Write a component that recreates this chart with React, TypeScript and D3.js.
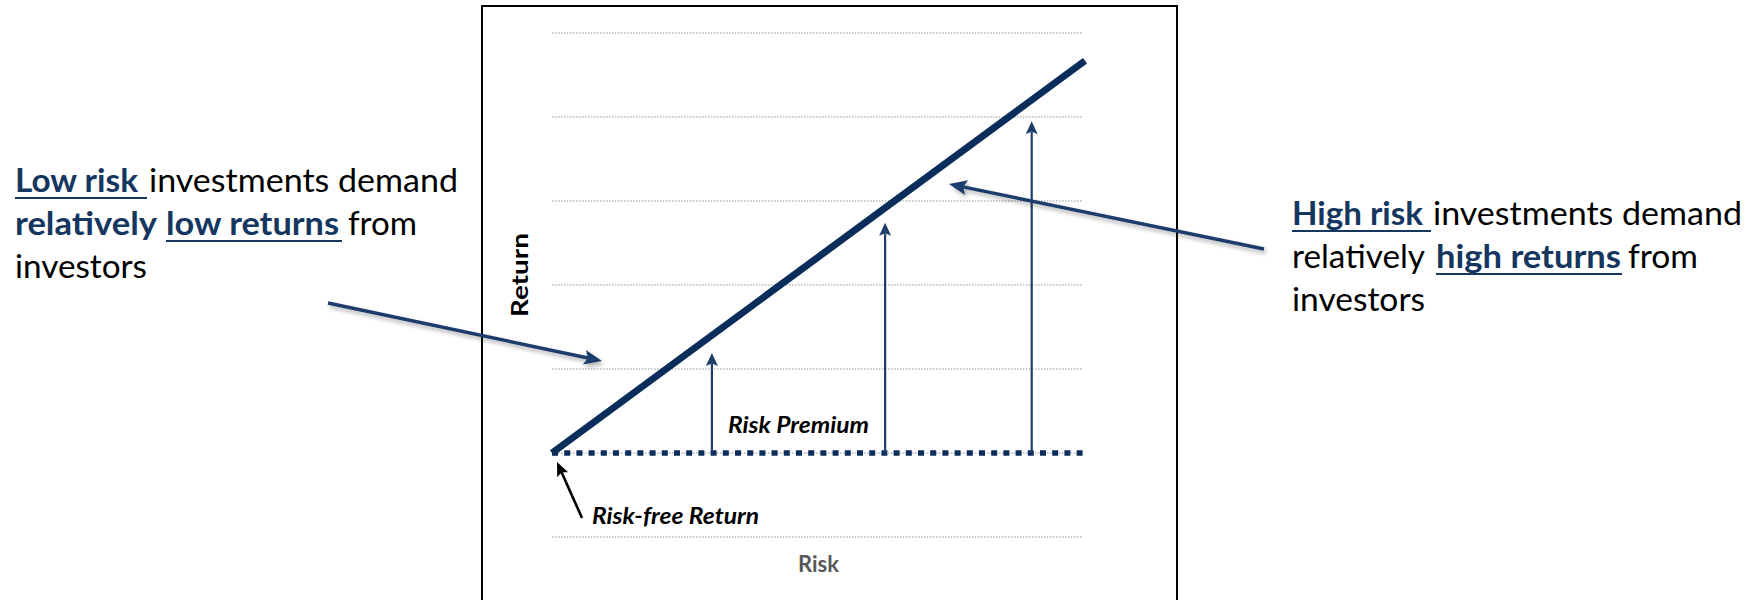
import React from "react";
import * as d3 from "d3";

// ---- data ----
const gridTicks = [0, 1, 2, 3, 4, 5, 6];
const smlRisk = [0, 10];
const smlReturn = [1, 5.67];
const riskFreeReturn = 1;
const premiumRisk = [3, 6.25, 9];
const premiumTop = [2.19, 3.74, 4.95];

const W = 1750;
const H = 600;
const NAVY = "#0b2d5b";
const ARROW = "#1f3d6c";
const TEXTNAVY = "#15375f";
const FONT = "Lato, 'Open Sans', sans-serif";

const x = d3.scaleLinear().domain([0, 10]).range([552, 1085]);
const y = d3.scaleLinear().domain([0, 6]).range([537, 33]);

function Arrow({ x1, y1, x2, y2, color, width, headLen, headW, filter }: any) {
  const ang = Math.atan2(y2 - y1, x2 - x1);
  const bx = x2 - headLen * Math.cos(ang);
  const by = y2 - headLen * Math.sin(ang);
  const px = Math.cos(ang + Math.PI / 2) * headW / 2;
  const py = Math.sin(ang + Math.PI / 2) * headW / 2;
  const lx = x2 - (headLen * 0.8) * Math.cos(ang);
  const ly = y2 - (headLen * 0.8) * Math.sin(ang);
  return (
    <g filter={filter}>
      <line x1={x1} y1={y1} x2={lx} y2={ly} stroke={color} strokeWidth={width} />
      <polygon points={`${x2},${y2} ${bx + px},${by + py} ${lx},${ly} ${bx - px},${by - py}`} fill={color} />
    </g>
  );
}

type Seg = { t: string; x: number; w: number; bold?: boolean; ul?: number };

const leftLines: { base: number; segs: Seg[] }[] = [
  { base: 192, segs: [
    { t: "Low risk", x: 15, w: 123, bold: true, ul: 132 },
    { t: "investments demand", x: 149, w: 309 },
  ]},
  { base: 235, segs: [
    { t: "relatively", x: 15, w: 142, bold: true },
    { t: "low returns", x: 166, w: 173, bold: true, ul: 176 },
    { t: "from", x: 348, w: 69 },
  ]},
  { base: 278, segs: [
    { t: "investors", x: 15, w: 132 },
  ]},
];

const rightLines: { base: number; segs: Seg[] }[] = [
  { base: 225, segs: [
    { t: "High risk", x: 1292, w: 131, bold: true, ul: 139 },
    { t: "investments demand", x: 1433, w: 309 },
  ]},
  { base: 268, segs: [
    { t: "relatively", x: 1292, w: 133 },
    { t: "high returns", x: 1436, w: 185, bold: true, ul: 186 },
    { t: "from", x: 1628, w: 70 },
  ]},
  { base: 311, segs: [
    { t: "investors", x: 1292, w: 133 },
  ]},
];

function TextBlock({ lines }: { lines: { base: number; segs: Seg[] }[] }) {
  return (
    <g fontFamily={FONT} fontSize={32}>
      {lines.map((ln, i) => (
        <g key={i}>
          {ln.segs.map((s, j) => (
            <g key={j}>
              <text x={s.x} y={ln.base} textLength={s.w} lengthAdjust="spacingAndGlyphs"
                fontWeight={s.bold ? 700 : 400} fill={s.bold ? TEXTNAVY : "#000"}>{s.t}</text>
              {s.ul ? <line x1={s.x} x2={s.x + s.ul} y1={ln.base + 6} y2={ln.base + 6} stroke={TEXTNAVY} strokeWidth={2} /> : null}
            </g>
          ))}
        </g>
      ))}
    </g>
  );
}

export default function App() {
  const line = d3.line<number>().x((d, i) => x(smlRisk[i])).y((d) => y(d));
  return (
    <svg width={W} height={H} style={{ position: "absolute", left: 0, top: 0, background: "#fff" }}>
      <defs>
        <filter id="shadow" x="-20%" y="-50%" width="140%" height="200%">
          <feDropShadow dx="2" dy="3" stdDeviation="2" floodColor="#000" floodOpacity="0.3" />
        </filter>
      </defs>
      <rect x={0} y={0} width={W} height={H} fill="#fff" />
      {/* chart frame */}
      <rect x={482} y={6} width={695} height={620} fill="none" stroke="#000" strokeWidth={2} />
      {/* gridlines */}
      {gridTicks.map((t) => (
        <line key={t} x1={552} x2={1083} y1={y(t)} y2={y(t)} stroke="#b8b8b8" strokeWidth={1.5} strokeDasharray="1.5 1.5" />
      ))}
      {/* risk-free dotted line */}
      <line x1={x(0)} x2={x(10) + 3} y1={y(riskFreeReturn)} y2={y(riskFreeReturn)}
        stroke={NAVY} strokeWidth={5.5} strokeDasharray="6 6.2" />
      {/* premium arrows */}
      {premiumRisk.map((r, i) => (
        <Arrow key={i} x1={x(r)} y1={y(riskFreeReturn)} x2={x(r)} y2={y(premiumTop[i])}
          color={ARROW} width={2.2} headLen={13} headW={12} />
      ))}
      {/* SML */}
      <path d={line(smlReturn) || ""} fill="none" stroke={NAVY} strokeWidth={7} />
      {/* labels */}
      <text x={728} y={433} textLength={141} lengthAdjust="spacingAndGlyphs" fontFamily={FONT}
        fontSize={23} fontWeight={700} fontStyle="italic" fill="#000">Risk Premium</text>
      <text x={592} y={524} textLength={167} lengthAdjust="spacingAndGlyphs" fontFamily={FONT}
        fontSize={23} fontWeight={700} fontStyle="italic" fill="#000">Risk-free Return</text>
      <text x={798} y={572} textLength={41} lengthAdjust="spacingAndGlyphs" fontFamily={FONT}
        fontSize={22} fontWeight={700} fill="#595959">Risk</text>
      <text transform="translate(528,317) rotate(-90)" textLength={84} lengthAdjust="spacingAndGlyphs"
        fontFamily={FONT} fontSize={22} fontWeight={700} fill="#000">Return</text>
      {/* risk-free arrow */}
      <Arrow x1={582} y1={518} x2={557} y2={462} color="#000" width={2.6} headLen={14} headW={12} />
      {/* annotation arrows */}
      <Arrow x1={328} y1={303} x2={602} y2={361} color={ARROW} width={3.5} headLen={18} headW={15} filter="url(#shadow)" />
      <Arrow x1={1264} y1={249} x2={949} y2={184} color={ARROW} width={3.5} headLen={18} headW={15} filter="url(#shadow)" />
      <TextBlock lines={leftLines} />
      <TextBlock lines={rightLines} />
    </svg>
  );
}
